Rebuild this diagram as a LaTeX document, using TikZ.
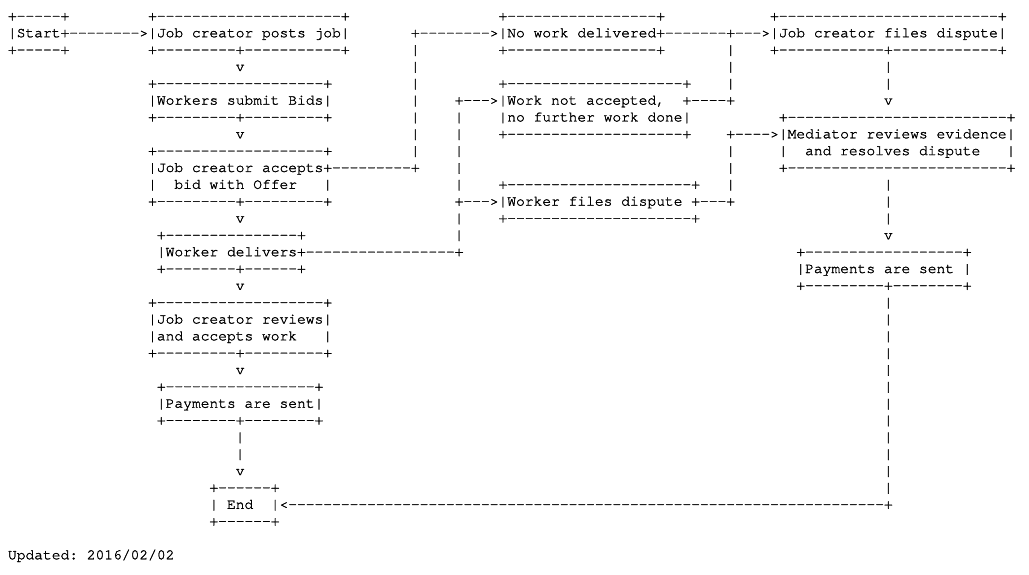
\documentclass[tikz,border=0pt]{standalone}
\usepackage{fontspec}
\setmonofont{texgyrecursor-regular.otf}[Kerning=Off, Ligatures={NoCommon,NoRequired,NoContextual}, RawFeature={embolden=1.5}]
\ExplSyntaxOn
\cs_new:Npn \asp #1 { \prg_replicate:nn {#1} { \phantom{-} } }
\cs_new:Npn \ads #1 { \prg_replicate:nn {#1} { -\kern0pt } }
\ExplSyntaxOff
\tikzset{
  ln/.style={anchor=base west, inner sep=0pt, outer sep=0pt,
    font=\ttfamily\fontsize{14.6}{16.9}\selectfont, text=black}
}
\begin{document}
\begin{tikzpicture}[x=1pt,y=1pt]
\fill[white] (0,0) rectangle (1029,-574);
\useasboundingbox (0,0) rectangle (1029,-574);
\node[ln] (l0) at (8,{-20.4-16.84*0}) {+\ads{5}+\asp{9}+\ads{21}+\asp{17}+\ads{17}+\asp{12}+\ads{25}+};
\node[ln] (l1) at (8,{-20.4-16.84*1}) {|Start+\ads{8}>|Job creator posts job|\asp{7}+\ads{8}>|No work delivered+\ads{7}+\ads{3}>|Job creator files dispute|};
\node[ln] (l2) at (8,{-20.4-16.84*2}) {+\ads{5}+\asp{9}+\ads{9}+\ads{11}+\asp{7}|\asp{9}+\ads{17}+\asp{7}|\asp{4}+\ads{12}+\ads{12}+};
\node[ln] (l3) at (8,{-20.4-16.84*3}) {\asp{26}v\asp{19}|\asp{35}|\asp{17}|};
\node[ln] (l4) at (8,{-20.4-16.84*4}) {\asp{16}+\ads{19}+\asp{9}|\asp{9}+\ads{20}+\asp{4}|\asp{17}|};
\node[ln] (l5) at (8,{-20.4-16.84*5}) {\asp{16}|Workers submit Bids|\asp{9}|\asp{4}+\ads{3}>|Work not accepted,\asp{2}+\ads{4}+\asp{17}v};
\node[ln] (l6) at (8,{-20.4-16.84*6}) {\asp{16}+\ads{9}+\ads{9}+\asp{9}|\asp{4}|\asp{4}|no further work done|\asp{10}+\ads{25}+};
\node[ln] (l7) at (8,{-20.4-16.84*7}) {\asp{26}v\asp{19}|\asp{4}|\asp{4}+\ads{20}+\asp{4}+\ads{4}>|Mediator reviews evidence|};
\node[ln] (l8) at (8,{-20.4-16.84*8}) {\asp{16}+\ads{19}+\asp{9}|\asp{4}|\asp{30}|\asp{5}|\asp{2}and resolves dispute\asp{3}|};
\node[ln] (l9) at (8,{-20.4-16.84*9}) {\asp{16}|Job creator accepts+\ads{9}+\asp{4}|\asp{30}|\asp{5}+\ads{25}+};
\node[ln] (l10) at (8,{-20.4-16.84*10}) {\asp{16}|\asp{2}bid with Offer\asp{3}|\asp{14}|\asp{4}+\ads{21}+\asp{3}|\asp{17}|};
\node[ln] (l11) at (8,{-20.4-16.84*11}) {\asp{16}+\ads{9}+\ads{9}+\asp{14}+\ads{3}>|Worker files dispute\asp{1}+\ads{3}+\asp{17}|};
\node[ln] (l12) at (8,{-20.4-16.84*12}) {\asp{26}v\asp{24}|\asp{4}+\ads{21}+\asp{21}|};
\node[ln] (l13) at (8,{-20.4-16.84*13}) {\asp{17}+\ads{15}+\asp{17}|\asp{48}v};
\node[ln] (l14) at (8,{-20.4-16.84*14}) {\asp{17}|Worker delivers+\ads{17}+\asp{38}+\ads{18}+};
\node[ln] (l15) at (8,{-20.4-16.84*15}) {\asp{17}+\ads{8}+\ads{6}+\asp{56}|Payments are sent\asp{1}|};
\node[ln] (l16) at (8,{-20.4-16.84*16}) {\asp{26}v\asp{63}+\ads{9}+\ads{8}+};
\node[ln] (l17) at (8,{-20.4-16.84*17}) {\asp{16}+\ads{19}+\asp{63}|};
\node[ln] (l18) at (8,{-20.4-16.84*18}) {\asp{16}|Job creator reviews|\asp{63}|};
\node[ln] (l19) at (8,{-20.4-16.84*19}) {\asp{16}|and accepts work\asp{3}|\asp{63}|};
\node[ln] (l20) at (8,{-20.4-16.84*20}) {\asp{16}+\ads{9}+\ads{9}+\asp{63}|};
\node[ln] (l21) at (8,{-20.4-16.84*21}) {\asp{26}v\asp{73}|};
\node[ln] (l22) at (8,{-20.4-16.84*22}) {\asp{17}+\ads{17}+\asp{64}|};
\node[ln] (l23) at (8,{-20.4-16.84*23}) {\asp{17}|Payments are sent|\asp{64}|};
\node[ln] (l24) at (8,{-20.4-16.84*24}) {\asp{17}+\ads{8}+\ads{8}+\asp{64}|};
\node[ln] (l25) at (8,{-20.4-16.84*25}) {\asp{26}|\asp{73}|};
\node[ln] (l26) at (8,{-20.4-16.84*26}) {\asp{26}|\asp{73}|};
\node[ln] (l27) at (8,{-20.4-16.84*27}) {\asp{26}v\asp{73}|};
\node[ln] (l28) at (8,{-20.4-16.84*28}) {\asp{23}+\ads{6}+\asp{69}|};
\node[ln] (l29) at (8,{-20.4-16.84*29}) {\asp{23}|\asp{1}End\asp{2}|<\ads{68}+};
\node[ln] (l30) at (8,{-20.4-16.84*30}) {\asp{23}+\ads{6}+};
\node[ln] (l32) at (8,{-20.4-16.84*32}) {Updated: 2016/02/02};
\end{tikzpicture}
\end{document}
